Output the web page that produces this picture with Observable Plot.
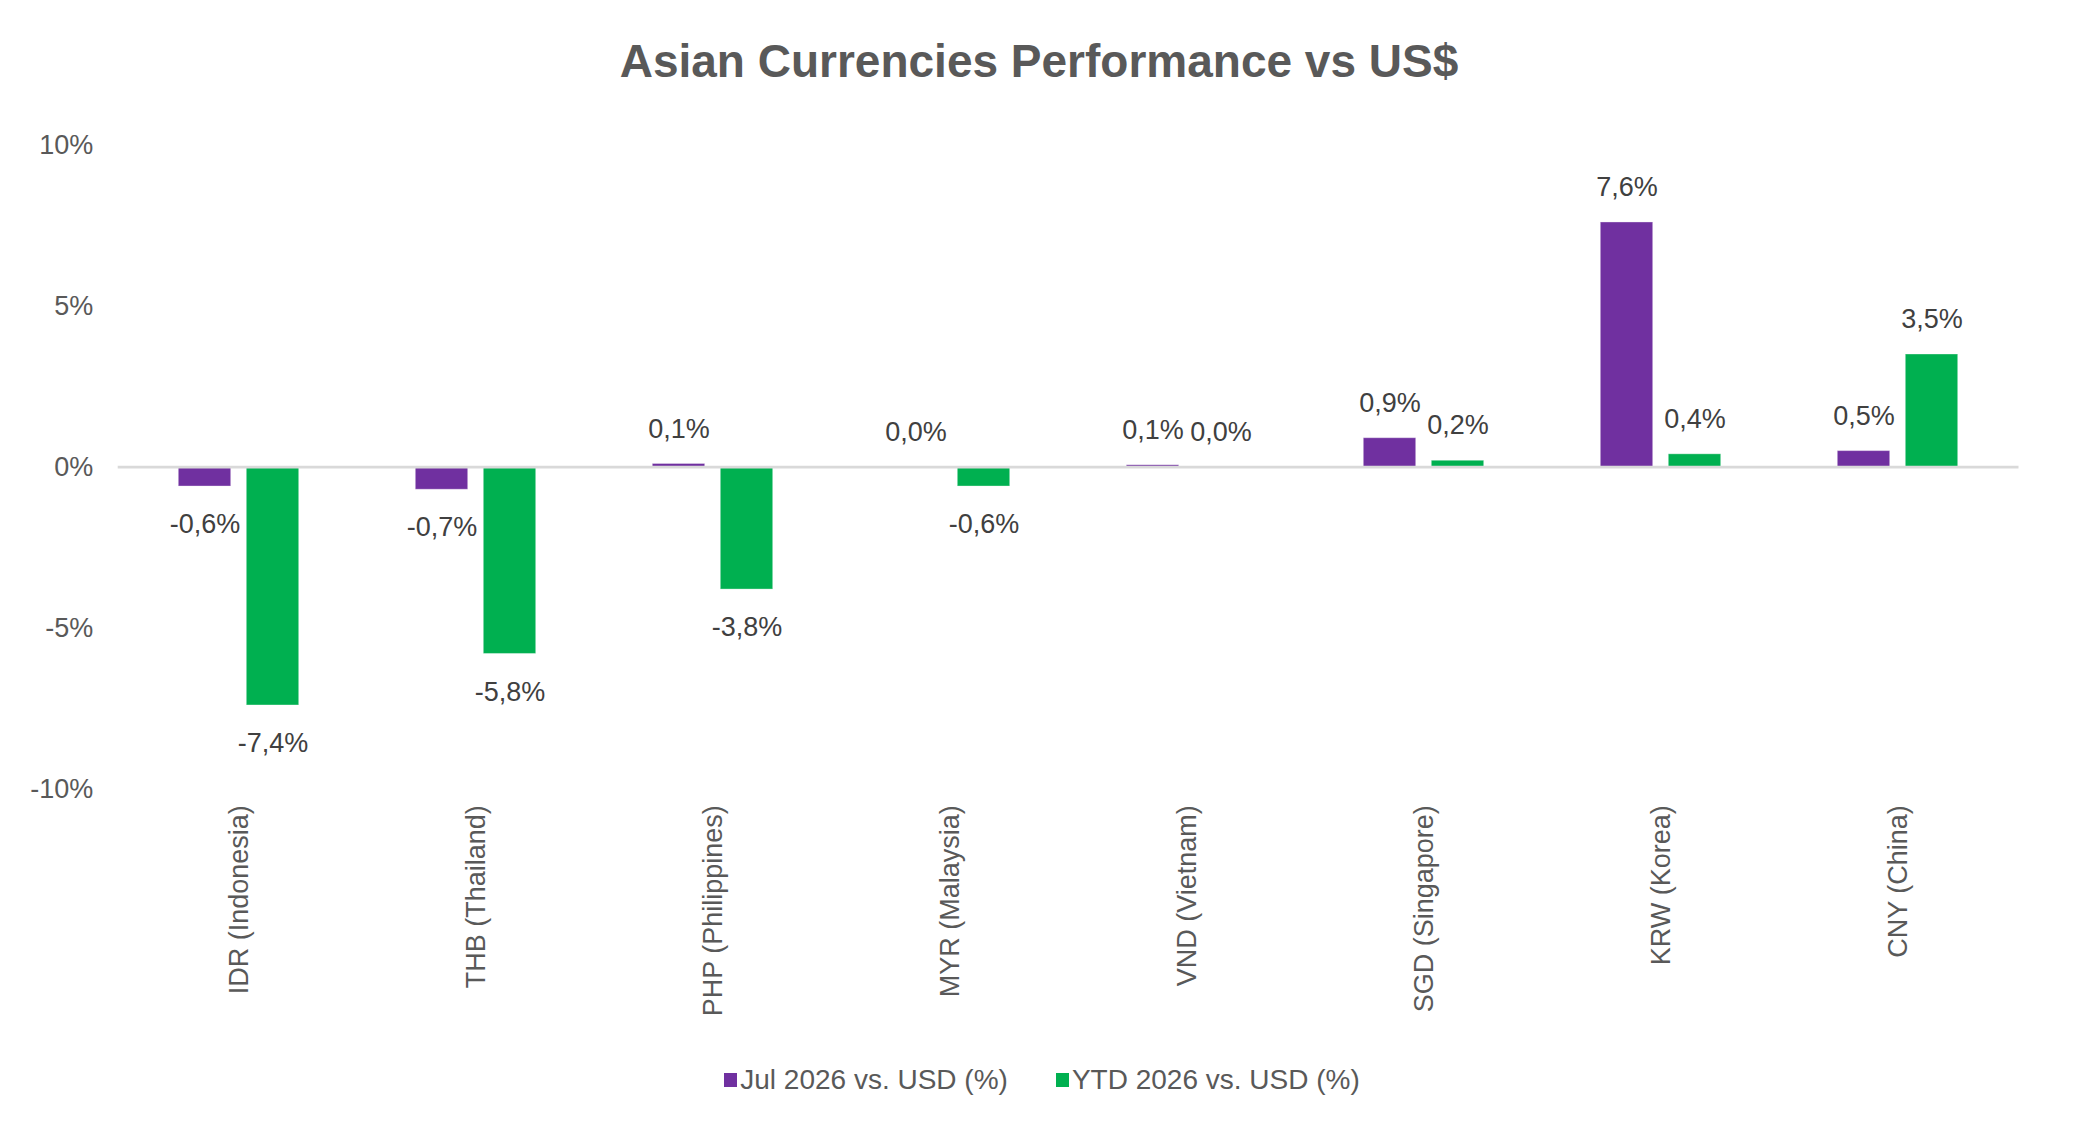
<!DOCTYPE html>
<html>
<head>
<meta charset="utf-8">
<script src="https://cdn.jsdelivr.net/npm/d3@7"></script>
<script src="https://cdn.jsdelivr.net/npm/@observablehq/plot@0.6"></script>
<style>
  html, body { margin: 0; padding: 0; background: #fff; }
  body { width: 2076px; height: 1141px; overflow: hidden; font-family: "Liberation Sans", Arial, sans-serif; }
  #title { height: 110px; box-sizing: border-box; padding-top: 38px; text-align: center; font-size: 46px; line-height: 46px; font-weight: bold; color: #595959; padding-left: 2px; }
  #chart { height: 940px; }
  #chart svg { display: block; }
  #legend { height: 60px; display: flex; align-items: center; justify-content: center; font-size: 28px; color: #595959; padding-left: 8px; }
  .item { display: flex; align-items: center; }
  .sw { width: 13px; height: 14px; margin-right: 3px; }
  .item + .item { margin-left: 48px; }
</style>
</head>
<body>
<div id="title">Asian Currencies Performance vs US$</div>
<div id="chart"></div>
<div id="legend"></div>
<script>
const categories = ["IDR (Indonesia)", "THB (Thailand)", "PHP (Philippines)", "MYR (Malaysia)", "VND (Vietnam)", "SGD (Singapore)", "KRW (Korea)", "CNY (China)"];
const julValues = [-0.6, -0.7, 0.1, 0.0, 0.06, 0.9, 7.6, 0.5];
const ytdValues = [-7.4, -5.8, -3.8, -0.6, 0.0, 0.2, 0.4, 3.5];
const seriesNames = ["Jul 2026 vs. USD (%)", "YTD 2026 vs. USD (%)"];
const seriesColors = ["#7030A0", "#00B050"];
const yTicks = [-10, -5, 0, 5, 10];

const jul = categories.map((c, i) => ({cat: c, value: julValues[i]}));
const ytd = categories.map((c, i) => ({cat: c, value: ytdValues[i]}));
const fmt = v => (Math.round(v * 10) / 10).toFixed(1).replace(".", ",") + "%";

const labelStyle = {fill: "#404040", fontSize: 27};

const chart = Plot.plot({
  width: 2076,
  height: 940,
  marginLeft: 117.7,
  marginRight: 57.5,
  marginTop: 34.7,
  marginBottom: 261.3,
  style: {fontFamily: "'Liberation Sans', Arial, sans-serif", fontSize: "27px", color: "#595959", background: "white"},
  x: {domain: categories, padding: 0, axis: null},
  y: {domain: [-10, 10], axis: null},
  marks: [
    Plot.axisY({ticks: yTicks, tickFormat: d => `${d}%`, tickSize: 0, tickPadding: 25, fontSize: 27, fill: "#595959", label: null}),
    Plot.axisX({tickRotate: -90, tickSize: 0, tickPadding: 16, fontSize: 27, fill: "#595959", label: null}),
    Plot.barY(jul, {x: "cat", y: "value", fill: seriesColors[0], insetLeft: 58.3, insetRight: 126.3, stroke: "#fff", strokeOpacity: 0.35, strokeWidth: 1}),
    Plot.barY(ytd, {x: "cat", y: "value", fill: seriesColors[1], insetLeft: 126.3, insetRight: 58.3, stroke: "#fff", strokeOpacity: 0.35, strokeWidth: 1}),
    Plot.ruleY([0], {stroke: "#d9d9d9", strokeWidth: 2.7}),
    Plot.text(jul, {filter: d => d.value >= 0, x: "cat", y: "value", text: d => fmt(d.value), dx: -34, dy: -35, ...labelStyle}),
    Plot.text(jul, {filter: d => d.value < 0, x: "cat", y: "value", text: d => fmt(d.value), dx: -34, dy: 38, ...labelStyle}),
    Plot.text(ytd, {filter: d => d.value >= 0, x: "cat", y: "value", text: d => fmt(d.value), dx: 34, dy: -35, ...labelStyle}),
    Plot.text(ytd, {filter: d => d.value < 0, x: "cat", y: "value", text: d => fmt(d.value), dx: 34, dy: 38, ...labelStyle})
  ]
});
document.getElementById("chart").appendChild(chart);

const legend = document.getElementById("legend");
seriesNames.forEach((name, i) => {
  const item = document.createElement("div");
  item.className = "item";
  const sw = document.createElement("span");
  sw.className = "sw";
  sw.style.background = seriesColors[i];
  const label = document.createElement("span");
  label.textContent = name;
  item.appendChild(sw);
  item.appendChild(label);
  legend.appendChild(item);
});
</script>
</body>
</html>
